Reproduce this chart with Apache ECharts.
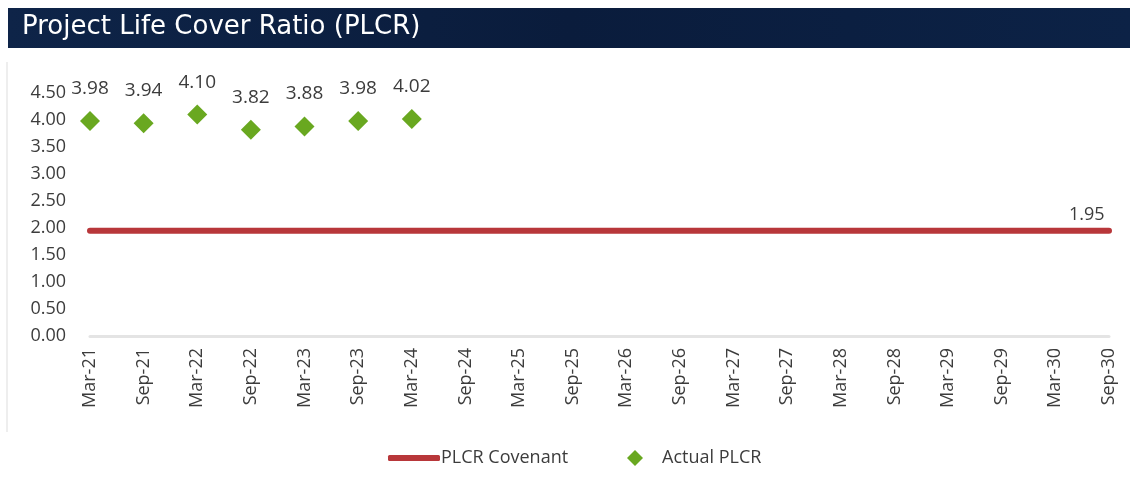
<!DOCTYPE html>
<html><head><meta charset="utf-8">
<script src="https://cdn.jsdelivr.net/npm/echarts@6/dist/echarts.min.js"></script>
<style>html,body{margin:0;padding:0;background:#fff}#c{width:1130px;height:487px}</style>
</head><body><div id="c"></div>
<script>
const categories = ['Mar-21','Sep-21','Mar-22','Sep-22','Mar-23','Sep-23','Mar-24','Sep-24','Mar-25','Sep-25','Mar-26','Sep-26','Mar-27','Sep-27','Mar-28','Sep-28','Mar-29','Sep-29','Mar-30','Sep-30'];
const covenant = [1.95,1.95,1.95,1.95,1.95,1.95,1.95,1.95,1.95,1.95,1.95,1.95,1.95,1.95,1.95,1.95,1.95,1.95,1.95,1.95];
const actual = [3.98,3.94,4.10,3.82,3.88,3.98,4.02,null,null,null,null,null,null,null,null,null,null,null,null,null];
const titleText = 'Project Life Cover Ratio (PLCR)';
const font = '"Open Sans", "Liberation Sans", sans-serif';
const txt = '#3c3c3c';

const chart = echarts.init(document.getElementById('c'), null, {renderer:'canvas'});
chart.setOption({
  backgroundColor:'#ffffff',
  animation:false,
  graphic:[
    {type:'rect', left:8, top:8, shape:{width:1122, height:40},
     style:{fill:new echarts.graphic.LinearGradient(0,0,1,0,[{offset:0,color:'#0e2448'},{offset:0.5,color:'#0a1c3c'},{offset:1,color:'#0c2246'}])}},
    {type:'text', left:22, top:14, style:{text:titleText, fill:'#ffffff', font:'26px "DejaVu Sans", sans-serif'}},
    {type:'rect', left:6, top:62, shape:{width:2, height:370}, style:{fill:'#eeeeee'}}
  ],
  grid:{left:90, right:21, top:93, bottom:151, containLabel:false},
  xAxis:{type:'category', data:categories, boundaryGap:false,
    axisLine:{show:true, lineStyle:{color:'#e4e4e4', width:3}},
    axisTick:{show:false},
    axisLabel:{rotate:90, margin:12, color:txt, fontSize:18, fontFamily:font, interval:0}},
  yAxis:{type:'value', min:0, max:4.5, interval:0.5,
    axisLine:{show:false}, axisTick:{show:false}, splitLine:{show:false},
    axisLabel:{color:txt, fontSize:18, fontFamily:font, margin:24, formatter:v=>v.toFixed(2)}},
  legend:[
    {data:[{name:'PLCR Covenant', icon:'roundRect'}], left:383, top:444, itemWidth:52, itemHeight:6, itemGap:0,
     textStyle:{color:txt, fontSize:18, fontFamily:font, padding:[0,0,0,-4]}},
    {data:[{name:'Actual PLCR', icon:'diamond'}], left:622, top:444, itemWidth:16, itemHeight:16,
     textStyle:{color:txt, fontSize:18, fontFamily:font, padding:[0,0,0,14]}}
  ],
  series:[
    {name:'PLCR Covenant', type:'line', data:covenant, symbol:'none', z:2,
     lineStyle:{color:'#b8373a', width:6, cap:'round'}, itemStyle:{color:'#b8373a'},
     endLabel:{show:true, fontSize:18, color:txt, fontFamily:font, offset:[-48,-16],
       formatter:p=>Number(p.value).toFixed(2)}},
    {name:'Actual PLCR', type:'scatter', data:actual, symbol:'diamond', symbolSize:20, z:3,
     itemStyle:{color:'#69a820', opacity:1},
     label:{show:true, position:'top', distance:13, fontSize:19, color:txt, fontFamily:font,
       formatter:p=>p.value.toFixed(2)}}
  ]
});
</script></body></html>
